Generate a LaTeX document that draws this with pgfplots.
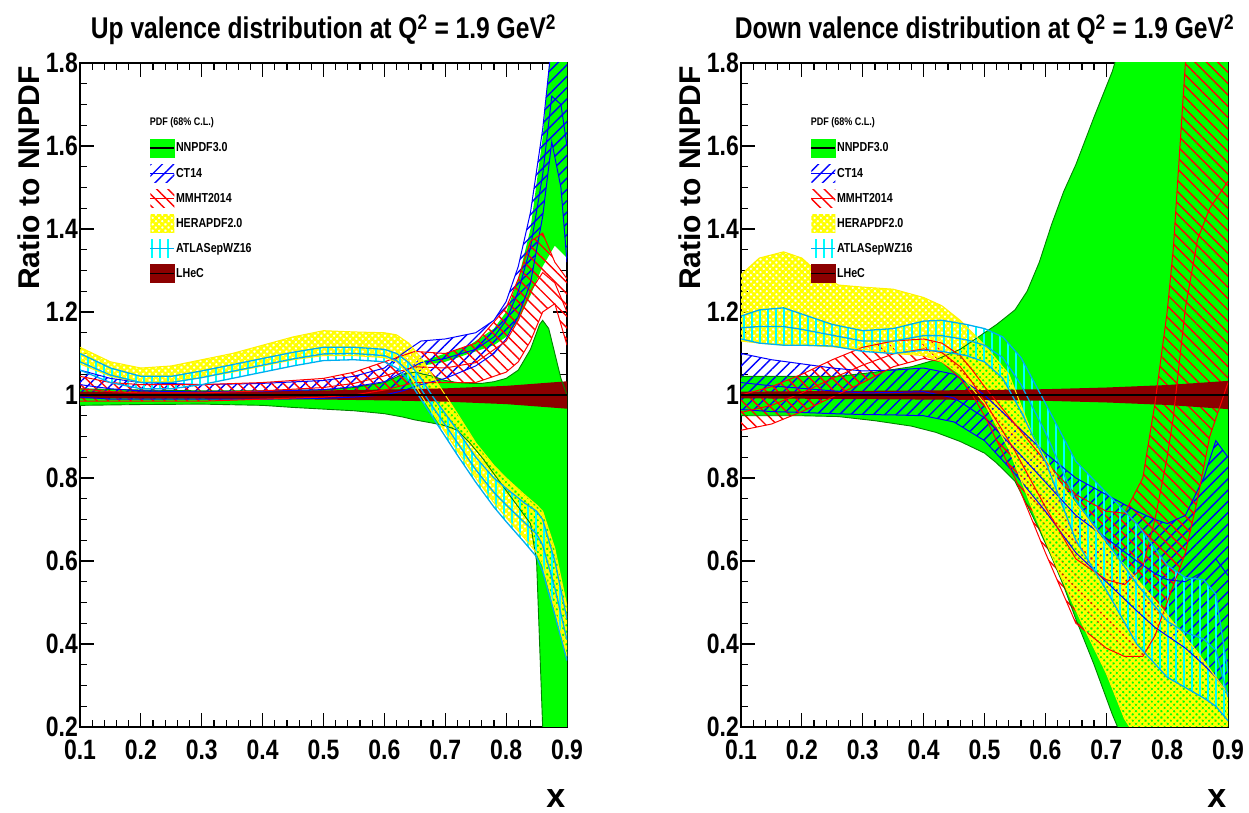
\documentclass[border=0pt]{standalone}
\usepackage{pgfplots}
\pgfplotsset{compat=1.18}
\usepackage{pgfplotstable}
\usepgfplotslibrary{fillbetween}
\usetikzlibrary{patterns.meta}
\usepackage{fontspec}
\setmainfont{Liberation Sans}
\newfontfamily\cond{Liberation Sans}[FakeStretch=0.82]

\definecolor{nngreen}{RGB}{0,255,0}
\definecolor{nnedge}{RGB}{0,130,0}
\definecolor{lhec}{RGB}{140,0,0}

% ---------------- Up valence (left) ----------------
\pgfplotstableread{
x up lo
0.10 1.015 0.975
0.20 1.012 0.977
0.30 1.010 0.978
0.40 1.010 0.975
0.45 1.012 0.970
0.50 1.012 0.966
0.55 1.018 0.962
0.60 1.030 0.955
0.63 1.050 0.947
0.65 1.055 0.940
0.68 1.045 0.932
0.70 1.035 0.926
0.72 1.030 0.915
0.74 1.028 0.885
0.76 1.028 0.850
0.78 1.032 0.810
0.80 1.040 0.770
0.82 1.060 0.730
0.84 1.110 0.690
0.85 1.150 0.600
0.855 1.170 0.400
0.86 1.180 0.200
0.87 1.160 0.100
0.88 1.100 0.100
0.89 1.040 0.100
0.90 1.000 0.100
}\nnLa
\pgfplotstableread{
x up lo
0.63 1.050 1.050
0.66 1.080 1.070
0.70 1.100 1.080
0.74 1.120 1.100
0.78 1.160 1.120
0.80 1.200 1.140
0.82 1.280 1.180
0.84 1.400 1.240
0.86 1.620 1.310
0.88 1.950 1.360
0.90 2.000 1.330
}\nnLb
\pgfplotstableread{
x up lo c
0.10 1.060 0.995 1.025
0.15 1.040 0.990 1.015
0.20 1.030 0.990 1.010
0.30 1.025 0.990 1.007
0.40 1.028 0.990 1.009
0.50 1.035 0.992 1.013
0.55 1.045 0.995 1.020
0.60 1.065 1.000 1.032
0.63 1.100 1.010 1.055
0.66 1.130 1.025 1.078
0.70 1.135 1.040 1.088
0.75 1.150 1.070 1.110
0.78 1.180 1.100 1.140
0.80 1.225 1.135 1.180
0.82 1.310 1.190 1.250
0.84 1.440 1.270 1.355
0.86 1.640 1.430 1.530
0.875 1.850 1.610 1.720
0.89 2.000 1.500 1.700
0.90 2.000 1.320 1.600
}\ctL
\pgfplotstableread{
x up lo c
0.10 1.045 0.985 1.015
0.15 1.030 0.985 1.008
0.20 1.025 0.985 1.005
0.30 1.025 0.985 1.005
0.40 1.030 0.990 1.010
0.50 1.040 0.995 1.018
0.55 1.055 1.000 1.028
0.60 1.080 1.012 1.046
0.65 1.105 1.030 1.068
0.70 1.100 1.030 1.065
0.75 1.125 1.030 1.078
0.80 1.210 1.055 1.130
0.82 1.280 1.080 1.180
0.84 1.370 1.130 1.250
0.86 1.390 1.200 1.295
0.88 1.320 1.220 1.270
0.90 1.280 1.120 1.200
}\mmL
\pgfplotstableread{
x up lo
0.10 1.115 1.075
0.15 1.080 1.045
0.20 1.065 1.030
0.25 1.070 1.032
0.30 1.085 1.042
0.35 1.100 1.055
0.40 1.120 1.070
0.45 1.140 1.085
0.50 1.155 1.095
0.55 1.152 1.095
0.60 1.150 1.090
0.62 1.145 1.080
0.64 1.125 1.050
0.66 1.090 1.000
0.68 1.045 0.955
0.70 1.000 0.910
0.72 0.955 0.865
0.75 0.885 0.800
0.78 0.830 0.740
0.80 0.800 0.705
0.83 0.760 0.655
0.85 0.735 0.620
0.86 0.720 0.590
0.88 0.630 0.480
0.90 0.490 0.370
}\hrL
\pgfplotstableread{
x up lo c
0.10 1.100 1.060 1.080
0.15 1.065 1.030 1.048
0.20 1.045 1.015 1.030
0.25 1.045 1.015 1.030
0.30 1.058 1.025 1.042
0.35 1.073 1.040 1.057
0.40 1.088 1.055 1.072
0.45 1.103 1.070 1.087
0.50 1.115 1.083 1.099
0.55 1.115 1.085 1.100
0.60 1.110 1.080 1.095
0.62 1.100 1.065 1.083
0.64 1.078 1.035 1.057
0.66 1.040 0.990 1.015
0.68 0.995 0.945 0.970
0.70 0.955 0.900 0.928
0.72 0.915 0.855 0.885
0.75 0.850 0.790 0.820
0.78 0.800 0.730 0.765
0.80 0.775 0.695 0.735
0.83 0.740 0.645 0.693
0.85 0.720 0.610 0.665
0.86 0.700 0.575 0.638
0.88 0.600 0.470 0.535
0.90 0.460 0.360 0.410
}\atL
\pgfplotstableread{
x up lo
0.10 1.008 0.992
0.30 1.009 0.991
0.50 1.011 0.989
0.60 1.013 0.987
0.70 1.016 0.984
0.80 1.022 0.978
0.90 1.033 0.967
}\lhL

% ---------------- Down valence (right) ----------------
\pgfplotstableread{
x up lo
0.10 1.045 0.950
0.20 1.045 0.950
0.26 1.045 0.948
0.32 1.055 0.938
0.38 1.068 0.925
0.42 1.085 0.910
0.46 1.110 0.888
0.50 1.150 0.860
0.52 1.170 0.836
0.55 1.205 0.792
0.57 1.250 0.735
0.59 1.320 0.675
0.61 1.410 0.610
0.63 1.490 0.540
0.65 1.555 0.460
0.68 1.670 0.350
0.71 1.780 0.230
0.72 1.830 0.195
0.75 2.000 0.100
0.90 2.000 0.100
}\nnR
\pgfplotstableread{
x up lo c
0.10 1.100 0.965 1.030
0.15 1.085 0.960 1.022
0.20 1.075 0.958 1.016
0.25 1.065 0.955 1.010
0.30 1.058 0.953 1.005
0.35 1.060 0.952 1.006
0.40 1.065 0.950 1.008
0.45 1.050 0.935 0.993
0.50 1.000 0.890 0.945
0.55 0.930 0.810 0.870
0.60 0.860 0.720 0.790
0.65 0.800 0.620 0.710
0.70 0.760 0.550 0.655
0.75 0.720 0.480 0.600
0.78 0.700 0.440 0.570
0.80 0.690 0.420 0.555
0.83 0.710 0.390 0.550
0.86 0.800 0.350 0.575
0.88 0.890 0.320 0.605
0.90 0.850 0.280 0.565
}\ctR
\pgfplotstableread{
x up lo c
0.10 1.000 0.915 0.958
0.15 1.020 0.930 0.975
0.20 1.050 0.960 1.005
0.25 1.085 0.995 1.040
0.30 1.115 1.030 1.072
0.35 1.130 1.068 1.099
0.40 1.135 1.088 1.111
0.43 1.125 1.080 1.102
0.46 1.095 1.040 1.068
0.48 1.060 1.000 1.030
0.50 1.020 0.950 0.985
0.55 0.930 0.800 0.865
0.60 0.840 0.620 0.730
0.65 0.760 0.450 0.605
0.70 0.720 0.390 0.555
0.73 0.715 0.370 0.543
0.76 0.800 0.370 0.585
0.78 0.980 0.420 0.700
0.80 1.200 0.500 0.850
0.81 1.350 0.540 0.945
0.83 1.800 0.620 1.210
0.85 2.000 0.750 1.375
0.87 2.000 0.900 1.450
0.90 2.000 1.030 1.515
}\mmR
\pgfplotstableread{
x up lo
0.10 1.290 1.130
0.13 1.330 1.125
0.17 1.345 1.120
0.20 1.330 1.120
0.23 1.290 1.118
0.26 1.265 1.115
0.30 1.260 1.110
0.35 1.255 1.100
0.40 1.235 1.095
0.43 1.215 1.080
0.46 1.180 1.050
0.50 1.120 0.980
0.54 1.050 0.870
0.58 0.900 0.720
0.62 0.795 0.580
0.66 0.720 0.450
0.70 0.640 0.330
0.73 0.590 0.220
0.76 0.540 0.150
0.80 0.470 0.100
0.85 0.380 0.100
0.90 0.280 0.100
}\hrR
\pgfplotstableread{
x up lo c
0.10 1.190 1.135 1.162
0.13 1.205 1.125 1.165
0.17 1.210 1.120 1.165
0.20 1.195 1.120 1.158
0.25 1.170 1.118 1.144
0.30 1.155 1.105 1.130
0.35 1.160 1.100 1.130
0.40 1.178 1.108 1.143
0.43 1.180 1.105 1.143
0.47 1.170 1.095 1.133
0.50 1.160 1.080 1.120
0.53 1.140 1.040 1.090
0.56 1.090 0.960 1.025
0.60 0.980 0.840 0.910
0.65 0.840 0.650 0.745
0.70 0.765 0.530 0.648
0.75 0.690 0.400 0.545
0.80 0.590 0.320 0.455
0.83 0.560 0.295 0.428
0.86 0.555 0.270 0.412
0.88 0.520 0.250 0.385
0.90 0.330 0.215 0.272
}\atR
\pgfplotstableread{
x up lo
0.10 1.008 0.992
0.30 1.010 0.990
0.50 1.012 0.988
0.60 1.014 0.986
0.70 1.018 0.982
0.80 1.024 0.976
0.90 1.034 0.966
}\lhR

\tikzset{
  ctpat/.style={draw=none, pattern={Lines[angle=45,distance=8pt,line width=1.4pt]}, pattern color=blue},
  mmpat/.style={draw=none, pattern={Lines[angle=-45,distance=8pt,line width=1.4pt]}, pattern color=red},
  hrpat/.style={draw=none, pattern={Hatch[angle=45,distance=4.5pt,line width=2.4pt]}, pattern color=yellow},
  atpat/.style={draw=none, pattern={Lines[angle=90,distance=8pt,line width=1.4pt]}, pattern color=cyan},
}

% band: #1 name, #2 table, #3 fill style, #4 edge style
\newcommand{\band}[4]{%
  \addplot[draw=none, forget plot, name path=#1u] table[x=x,y=up]{#2};
  \addplot[draw=none, forget plot, name path=#1l] table[x=x,y=lo]{#2};
  \addplot[#3, forget plot] fill between[of=#1u and #1l];
  \addplot[#4, forget plot] table[x=x,y=up]{#2};
  \addplot[#4, forget plot] table[x=x,y=lo]{#2};
}
\newcommand{\central}[2]{%
  \addplot[#2, forget plot] table[x=x,y=c]{#1};
}

\newcommand{\legendall}{%
  \addlegendimage{legend image code/.code={\fill[nngreen] (0pt,-9pt) rectangle (24pt,9pt); \draw[black,line width=1.2pt] (0pt,0pt)--(24pt,0pt);}}
  \addlegendentry{NNPDF3.0}
  \addlegendimage{legend image code/.code={\path[ctpat] (0pt,-9pt) rectangle (24pt,9pt); \draw[blue,line width=1.2pt] (0pt,0pt)--(24pt,0pt);}}
  \addlegendentry{CT14}
  \addlegendimage{legend image code/.code={\path[mmpat] (0pt,-9pt) rectangle (24pt,9pt); \draw[red,line width=1.2pt] (0pt,0pt)--(24pt,0pt);}}
  \addlegendentry{MMHT2014}
  \addlegendimage{legend image code/.code={\path[hrpat] (0pt,-9pt) rectangle (24pt,9pt);}}
  \addlegendentry{HERAPDF2.0}
  \addlegendimage{legend image code/.code={\path[atpat] (0pt,-9pt) rectangle (24pt,9pt); \draw[cyan,line width=1.2pt] (0pt,0pt)--(24pt,0pt);}}
  \addlegendentry{ATLASepWZ16}
  \addlegendimage{legend image code/.code={\fill[lhec] (0pt,-9pt) rectangle (24pt,9pt); \draw[black,line width=1.2pt] (0pt,0pt)--(24pt,0pt);}}
  \addlegendentry{LHeC}
  \node[anchor=west, inner sep=0pt, font=\cond\bfseries\fontsize{11}{11}\selectfont] at (rel axis cs:0.143,0.91) {PDF (68\% C.L.)};
}

\pgfplotsset{
  rootaxis/.style={
    scale only axis, width=487pt, height=664pt, anchor=south west,
    xmin=0.1, xmax=0.9, ymin=0.2, ymax=1.8,
    xtick={0.1,0.2,0.3,0.4,0.5,0.6,0.7,0.8,0.9},
    ytick={0.2,0.4,0.6,0.8,1,1.2,1.4,1.6,1.8},
    minor x tick num=4, minor y tick num=3,
    tick pos=both, tick align=inside,
    major tick length=14pt, minor tick length=7pt,
    tick style={black, line width=1.2pt},
    axis line style={line width=1.6pt},
    /pgf/number format/assume math mode=true,
    tick label style={font=\cond\bfseries\fontsize{28}{28}\selectfont},
    yticklabel style={inner sep=2pt},
    xticklabel style={inner sep=2pt, yshift=-11pt},
    every axis title/.style={at={(0.5,1)}, anchor=base, yshift=24pt, font=\cond\bfseries\fontsize{30}{30}\selectfont},
    every axis y label/.style={at={(rel axis cs:-0.105,1)}, rotate=90, anchor=east, font=\bfseries\fontsize{30}{30}\selectfont},
    every axis x label/.style={at={(rel axis cs:0.977,-0.108)}, anchor=center, inner sep=0pt, font=\bfseries\fontsize{34}{34}\selectfont},
    ylabel={Ratio to NNPDF}, xlabel={x},
    legend cell align=left,
    legend style={at={(0.143,0.886)}, anchor=north west, draw=none, fill=none, inner sep=0pt,
      row sep=7pt, font=\cond\bfseries\fontsize{13}{13}\selectfont, nodes={inner sep=1pt},
      /tikz/every even column/.append style={column sep=3pt}},
  }
}

\begin{document}
\begin{tikzpicture}
% ===== Left =====
\begin{axis}[rootaxis, at={(80pt,86pt)},
  title={Up valence distribution at Q\textsuperscript{2} = 1.9 GeV\textsuperscript{2}}]
  \band{nnla}{\nnLa}{fill=nngreen, draw=none}{nnedge, line width=0.9pt}
  \addplot[draw=none, forget plot, name path=nnlbu] table[x=x,y=up]{\nnLb};
  \addplot[draw=none, forget plot, name path=nnlbl] table[x=x,y=lo]{\nnLb};
  \addplot[fill=nngreen, draw=none, forget plot] fill between[of=nnlbu and nnlbl];
  \band{ctl}{\ctL}{ctpat}{blue, line width=1pt}
  \central{\ctL}{blue, line width=1pt}
  \band{mml}{\mmL}{mmpat}{red, line width=1pt}
  \central{\mmL}{red, line width=1pt}
  \band{hrl}{\hrL}{hrpat}{yellow, line width=1pt}
  \band{atl}{\atL}{atpat}{cyan, line width=1.3pt}
  \central{\atL}{cyan, line width=1.3pt}
  \band{lhl}{\lhL}{fill=lhec, draw=none}{draw=none}
  \addplot[black, line width=1.5pt, forget plot] coordinates {(0.1,1) (0.9,1)};
  \legendall
\end{axis}
% ===== Right =====
\begin{axis}[rootaxis, at={(741pt,86pt)},
  title={Down valence distribution at Q\textsuperscript{2} = 1.9 GeV\textsuperscript{2}}]
  \band{nnr}{\nnR}{fill=nngreen, draw=none}{nnedge, line width=0.9pt}
  \band{ctr}{\ctR}{ctpat}{blue, line width=1pt}
  \central{\ctR}{blue, line width=1pt}
  \band{mmr}{\mmR}{mmpat}{red, line width=1pt}
  \central{\mmR}{red, line width=1pt}
  \band{hrr}{\hrR}{hrpat}{yellow, line width=1pt}
  \band{atr}{\atR}{atpat}{cyan, line width=1.3pt}
  \central{\atR}{cyan, line width=1.3pt}
  \band{lhr}{\lhR}{fill=lhec, draw=none}{draw=none}
  \addplot[black, line width=1.5pt, forget plot] coordinates {(0.1,1) (0.9,1)};
  \legendall
\end{axis}
\path (0pt,0pt) rectangle (1249pt,813pt);
\end{tikzpicture}
\end{document}
